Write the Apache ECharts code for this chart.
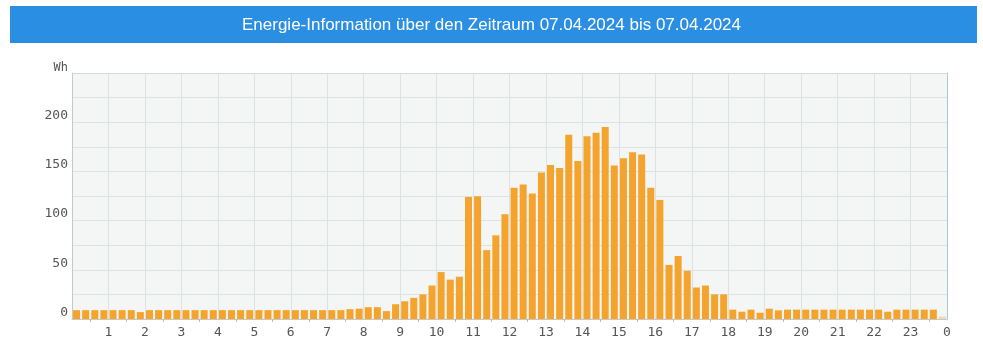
<!DOCTYPE html>
<html>
<head>
<meta charset="utf-8">
<script src="https://cdn.jsdelivr.net/npm/echarts@6/dist/echarts.min.js"></script>
<style>
html,body{margin:0;padding:0;background:#fff;}
#c{width:983px;height:349px;}
</style>
</head>
<body>
<div id="c"></div>
<script>
const titleText = 'Energie-Information über den Zeitraum 07.04.2024 bis 07.04.2024';
const unitLabel = 'Wh';
// hour tick labels at hour boundaries 0..24
const hourLabels = ['', '1','2','3','4','5','6','7','8','9','10','11','12','13','14','15','16','17','18','19','20','21','22','23','0'];
// 96 quarter-hour values (Wh)
const values = [
  9, 9, 9, 9, 9, 9, 9, 7,
  9, 9, 9, 9, 9, 9, 9, 9,
  9, 9, 9, 9, 9, 9, 9, 9,
  9, 9, 9, 9, 9, 9, 10, 10.5,
  12, 12, 8, 15, 18, 21.5, 25, 34,
  47.7, 40, 43, 124, 124.7, 70, 85, 106.5,
  133.5, 136.6, 127.5, 149, 156.5, 153.5, 187.3, 160.6,
  185.6, 189.3, 195, 156, 163.3, 169.4, 167.3, 133.5,
  121, 55, 64, 49, 32, 34, 25, 25,
  9.5, 7.4, 9.5, 6.4, 10.5, 8.8, 9.5, 9.5,
  9.5, 9.5, 9.5, 9.5, 9.5, 9.5, 9.5, 9.5,
  9.5, 7.4, 9.5, 9.5, 9.5, 9.5, 9.5, 2.5
];
// last interval is incomplete (drawn pale)
const incompleteIndex = 95;

const barColor = '#f4a42c';
const paleColor = '#efd9b4';

const data = values.map((v, i) => ({
  value: [i / 4 + 0.125, v],
  itemStyle: { color: i === incompleteIndex ? paleColor : barColor }
}));

const chart = echarts.init(document.getElementById('c'), null, { renderer: 'canvas' });
chart.setOption({
  animation: false,
  backgroundColor: '#ffffff',
  graphic: [
    { type: 'rect', left: 10, top: 6, shape: { width: 967, height: 37 }, style: { fill: '#2a8ee2' }, silent: true },
  ],
  title: {
    text: titleText,
    left: 'center',
    top: 12,
    textStyle: { color: '#ffffff', fontSize: 17, fontWeight: 'normal', fontFamily: 'Liberation Sans, Arial, sans-serif' }
  },
  grid: {
    left: 72, right: 36, top: 73, bottom: 30,
    show: true, backgroundColor: '#f4f5f5', borderWidth: 0
  },
  xAxis: [{
    type: 'value', min: 0, max: 24, interval: 1,
    axisLine: { show: true, onZero: false, lineStyle: { color: '#c8c8c8' } },
    axisTick: { show: false },
    minorTick: { show: true, splitNumber: 2, length: 3, lineStyle: { color: '#bbbbbb' } },
    splitLine: { show: true, lineStyle: { color: '#dde2e4', width: 1 } },
    axisLabel: {
      formatter: v => hourLabels[Math.round(v)] || '',
      color: '#555', fontSize: 13, fontFamily: 'DejaVu Sans Mono, monospace', margin: 7,
      showMinLabel: true, showMaxLabel: true
    }
  }, {
    type: 'value', min: 0, max: 24, position: 'top',
    axisLine: { show: true, onZero: false, lineStyle: { color: '#d6d9da' } },
    axisTick: { show: false }, axisLabel: { show: false }, splitLine: { show: false }
  }],
  yAxis: [{
    type: 'value', min: 0, max: 250, interval: 25, position: 'left',
    name: unitLabel, nameLocation: 'end', nameGap: -1,
    nameTextStyle: { color: '#555', fontSize: 12, fontFamily: 'DejaVu Sans Mono, monospace', align: 'right', padding: [0, 4, 0, 0] },
    axisLine: { show: true, onZero: false, lineStyle: { color: '#c8c8c8' } },
    axisTick: { show: false },
    splitLine: { show: true, lineStyle: { color: '#dde2e4', width: 1 } },
    axisLabel: {
      formatter: v => (v % 50 === 0 && v < 250) ? String(v) : '',
      color: '#555', fontSize: 13, fontFamily: 'DejaVu Sans Mono, monospace',
      margin: 4, verticalAlign: 'bottom', padding: [0, 0, 0, 0]
    }
  }, {
    type: 'value', min: 0, max: 250, position: 'right',
    axisLine: { show: true, onZero: false, lineStyle: { color: '#a9c8e2' } },
    axisTick: { show: false }, axisLabel: { show: false }, splitLine: { show: false }
  }],
  series: [{
    type: 'bar',
    data: data,
    barWidth: 7,
    xAxisIndex: 0,
    yAxisIndex: 0
  }]
});
</script>
</body>
</html>
